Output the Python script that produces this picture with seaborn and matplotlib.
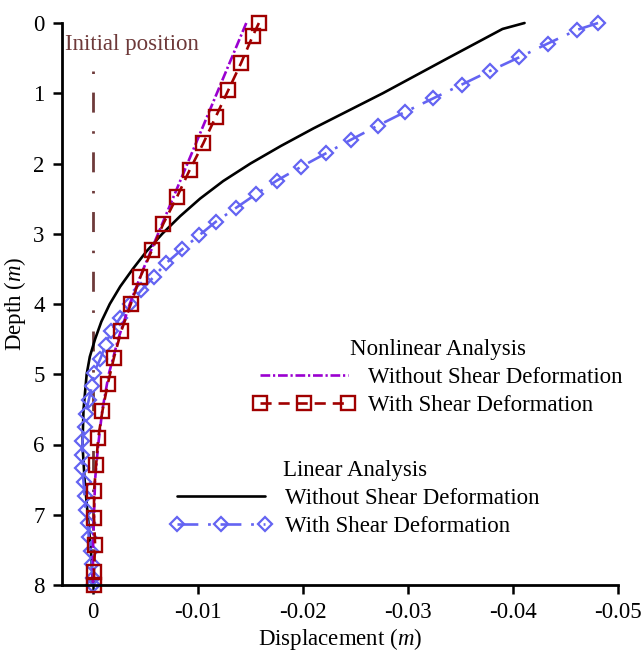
import matplotlib
matplotlib.use("Agg")
import matplotlib.pyplot as plt
import seaborn as sns
import pandas as pd

# ---------------- data ----------------
lin_noshear_depth = [0.0, 0.085, 0.5, 1.0, 1.5, 1.75, 2.0, 2.25, 2.5, 2.75, 3.0, 3.25, 3.5,
                     3.75, 4.0, 4.25, 4.5, 4.75, 5.0, 5.5, 6.0, 6.5, 7.0, 7.5, 8.0]
lin_noshear_disp = [-0.0411, -0.0390, -0.0338, -0.0276, -0.0210, -0.0179, -0.0150, -0.0124,
                    -0.0102, -0.0083, -0.0066, -0.0051, -0.0038, -0.0026, -0.0016, -0.0008,
                    -0.0002, 0.0003, 0.0006, 0.0009, 0.0010, 0.0008, 0.0005, 0.0002, 0.0]

lin_shear_depth = [0.0, 0.098, 0.293, 0.488, 0.683, 0.878, 1.073, 1.268, 1.463, 1.659, 1.854,
                   2.049, 2.244, 2.439, 2.634, 2.829, 3.024, 3.220, 3.415, 3.610, 3.805,
                   4.000, 4.195, 4.390, 4.585, 4.780, 4.976, 5.171, 5.366, 5.561, 5.756,
                   5.951, 6.146, 6.341, 6.537, 6.732, 6.927, 7.122, 7.317, 7.512, 7.707,
                   7.902, 8.0]
lin_shear_disp = [-0.0481, -0.0461, -0.0433, -0.0406, -0.0378, -0.0351, -0.0324, -0.0297,
                  -0.0271, -0.0246, -0.0222, -0.0198, -0.0175, -0.0155, -0.0136, -0.0117,
                  -0.0101, -0.0085, -0.0070, -0.0058, -0.0046, -0.0035, -0.0026, -0.0017,
                  -0.0012, -0.0007, -0.0001, 0.0001, 0.0004, 0.0007, 0.0008, 0.0010,
                  0.0010, 0.0010, 0.0009, 0.0008, 0.0007, 0.0005, 0.0004, 0.0002, 0.0001,
                  0.0000, 0.0]

nl_noshear_depth = [0.0, 0.5, 1.0, 1.5, 2.0, 2.5, 3.0, 3.5, 4.0, 4.5, 5.0, 5.5, 6.0, 6.5,
                    7.0, 7.5, 8.0]
nl_noshear_disp = [-0.0146, -0.0132, -0.0118, -0.0104, -0.0090, -0.0076, -0.0062, -0.0048,
                   -0.0035, -0.0024, -0.0015, -0.0009, -0.0005, -0.0002, -0.0001, 0.0, 0.0]

nl_shear_depth = [0.0, 0.19, 0.571, 0.952, 1.333, 1.714, 2.095, 2.476, 2.857, 3.238, 3.619,
                  4.0, 4.381, 4.762, 5.143, 5.524, 5.905, 6.286, 6.667, 7.048, 7.429, 7.81, 8.0]
nl_shear_disp = [-0.0158, -0.0152, -0.0141, -0.0129, -0.0117, -0.0105, -0.0092, -0.0080,
                 -0.0067, -0.0056, -0.0045, -0.0036, -0.0027, -0.0020, -0.0014, -0.0009,
                 -0.0005, -0.0003, -0.0001, -0.0001, -0.0002, -0.0001, -0.0001]

initial_depth = [0.69, 8.0]
initial_disp = [0.0, 0.0]

x_ticks = [0, -0.01, -0.02, -0.03, -0.04, -0.05]
x_tick_labels = ["0", "-0.01", "-0.02", "-0.03", "-0.04", "-0.05"]
y_ticks = [0, 1, 2, 3, 4, 5, 6, 7, 8]

# ---------------- style ----------------
sns.set_theme(style="ticks")
plt.rcParams["font.family"] = ["Liberation Serif", "DejaVu Serif"]
plt.rcParams["mathtext.fontset"] = "custom"
plt.rcParams["mathtext.rm"] = "Liberation Serif"
plt.rcParams["mathtext.it"] = "Liberation Serif:italic"
plt.rcParams["axes.unicode_minus"] = False
plt.rcParams["lines.scale_dashes"] = False
plt.rcParams["text.color"] = "black"
plt.rcParams["axes.labelcolor"] = "black"
plt.rcParams["xtick.color"] = "black"
plt.rcParams["ytick.color"] = "black"

FS = 16.5
LW = 1.9
BLACK = "#000000"
BLUE = "#6464F2"
PURPLE = "#9A00D0"
RED = "#A00000"
BROWN = "#6E3A3A"

fig = plt.figure(figsize=(6.43, 6.55), dpi=100)
W, H = 643, 655
ax = fig.add_axes([62 / W, 1 - 585 / H, (618 - 62) / W, (585 - 23) / H])

def draw(xs, ys, **kw):
    df = pd.DataFrame({"disp": xs, "depth": ys})
    sns.lineplot(data=df, x="disp", y="depth", sort=False, estimator=None,
                 legend=False, ax=ax, clip_on=False, **kw)
    return ax.lines[-1]

l_init = draw(initial_disp, initial_depth, color=BROWN, linewidth=2.0,
              linestyle=(0, (1.8, 13.4, 14.4, 13.4)))
l_lin = draw(lin_noshear_disp, lin_noshear_depth, color=BLACK, linewidth=LW,
             linestyle="-")
l_lins = draw(lin_shear_disp, lin_shear_depth, color=BLUE, linewidth=LW,
              linestyle=(0, (15, 7, 2, 7)), marker="D", markersize=6.8,
              markerfacecolor="none", markeredgecolor=BLUE, markeredgewidth=1.6)
l_nl = draw(nl_noshear_disp, nl_noshear_depth, color=PURPLE, linewidth=LW,
            linestyle=(0, (7, 2, 1.6, 2)))
l_nls = draw(nl_shear_disp, nl_shear_depth, color=RED, linewidth=LW,
             linestyle=(0, (8, 5)), marker="s", markersize=10,
             markerfacecolor="none", markeredgecolor=RED, markeredgewidth=1.7)

ax.set_xlim(0.00295, -0.05)
ax.set_ylim(8, 0)
ax.set_xticks(x_ticks)
ax.set_xticklabels(x_tick_labels)
ax.set_yticks(y_ticks)
ax.set_yticklabels([str(v) for v in y_ticks])
ax.tick_params(axis="both", direction="out", length=6.5, width=1.8, labelsize=FS,
               pad=6, colors=BLACK)
for s in ["top", "right"]:
    ax.spines[s].set_visible(False)
for s in ["left", "bottom"]:
    ax.spines[s].set_linewidth(2.0)
    ax.spines[s].set_color(BLACK)

ax.set_xlabel("Displacement ($m$)", fontsize=FS, labelpad=2, color=BLACK)
ax.set_ylabel("Depth ($m$)", fontsize=FS, labelpad=4, color=BLACK)
ax.text(0.00268, 0.31, "Initial position", color=BROWN, fontsize=FS,
        ha="left", va="center")

common = dict(frameon=False, fontsize=FS, title_fontsize=FS, borderpad=0,
              handlelength=4.45, handletextpad=0.57, labelspacing=0.3,
              borderaxespad=0, numpoints=3, loc="upper left",
              bbox_transform=fig.transFigure)
leg1 = ax.legend([l_nl, l_nls], ["Without Shear Deformation", "With Shear Deformation"],
                 title="Nonlinear Analysis", bbox_to_anchor=(253 / W, 1 - 339 / H), **common)
ax.add_artist(leg1)
leg2 = ax.legend([l_lin, l_lins], ["Without Shear Deformation", "With Shear Deformation"],
                 title="Linear Analysis", bbox_to_anchor=(170 / W, 1 - 460 / H), **common)
for lg in (leg1, leg2):
    lg.get_title().set_color(BLACK)
    for t in lg.get_texts():
        t.set_color(BLACK)

fig.savefig("out.png", dpi=100)
